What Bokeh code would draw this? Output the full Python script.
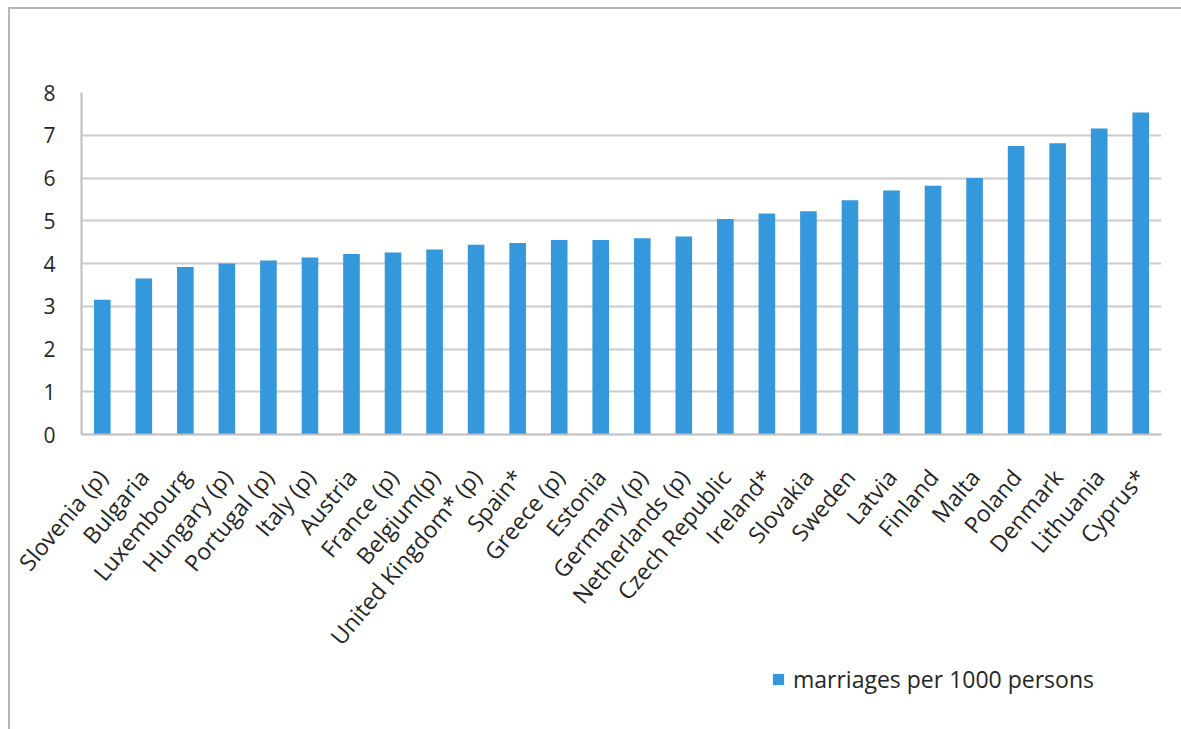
import math

from bokeh.embed import file_html
from bokeh.layouts import column
from bokeh.models import ColumnDataSource, FactorRange, FixedTicker, Legend, LegendItem, Range1d
from bokeh.plotting import figure
from bokeh.resources import INLINE

# Crude marriage rate by country (marriages per 1000 persons)
countries = [
    "Slovenia (p)", "Bulgaria", "Luxembourg", "Hungary (p)", "Portugal (p)",
    "Italy (p)", "Austria", "France (p)", "Belgium(p)", "United Kingdom* (p)",
    "Spain*", "Greece (p)", "Estonia", "Germany (p)", "Netherlands (p)",
    "Czech Republic", "Ireland*", "Slovakia", "Sweden", "Latvia",
    "Finland", "Malta", "Poland", "Denmark", "Lithuania", "Cyprus*",
]
rates = [
    3.15, 3.65, 3.92, 4.0, 4.07,
    4.14, 4.22, 4.26, 4.33, 4.44,
    4.48, 4.55, 4.55, 4.59, 4.63,
    5.04, 5.17, 5.22, 5.48, 5.71,
    5.82, 6.0, 6.75, 6.81, 7.16, 7.53,
]
y_ticks = [0, 1, 2, 3, 4, 5, 6, 7, 8]
series_name = "marriages per 1000 persons"

BAR = "#3598dc"
GRID = "#cccccc"
TEXT = "#262626"
FONT = "Open Sans"

source = ColumnDataSource(dict(country=countries, rate=rates))

# Main bar chart
p = figure(
    x_range=FactorRange(*countries, range_padding=0),
    y_range=Range1d(0, 8),
    width=1173,
    height=655,
    output_backend="svg",
    toolbar_location=None,
    min_border_left=71,
    min_border_top=83,
    min_border_right=22,
    min_border_bottom=226,
)
p.outline_line_color = None
p.background_fill_color = "white"
p.border_fill_color = "white"

bars = p.vbar(x="country", top="rate", width=0.4, source=source,
              fill_color=BAR, line_color=None)

p.xgrid.grid_line_color = None
p.ygrid.grid_line_color = GRID
p.ygrid.grid_line_width = 2
p.yaxis.ticker = FixedTicker(ticks=y_ticks)

for ax in (p.xaxis, p.yaxis):
    ax.axis_line_color = "#bdbdbd"
    ax.axis_line_width = 2
    ax.major_tick_line_color = None
    ax.minor_tick_line_color = None
    ax.major_label_text_font = FONT
    ax.major_label_text_color = TEXT

p.yaxis.major_label_text_font_size = "21px"
p.yaxis.major_label_standoff = 20
p.xaxis.major_label_text_font_size = "23px"
p.xaxis.major_label_orientation = math.radians(50)
p.xaxis.major_label_standoff = 32

# Strip underneath that carries the series legend; its copy of the bars
# lies far below the visible y range, so only the legend key shows.
key = figure(
    width=1173,
    height=65,
    x_range=FactorRange(*countries, range_padding=0),
    y_range=Range1d(100, 101),
    output_backend="svg",
    toolbar_location=None,
    x_axis_location=None,
    y_axis_location=None,
    min_border=0,
)
key.grid.visible = False
key.outline_line_color = None
key_bars = key.vbar(x="country", top="rate", width=0.4, source=source,
                    fill_color=BAR, line_color=None)

legend = Legend(
    items=[LegendItem(label=series_name, renderers=[key_bars])],
    location=(690, 34),
    orientation="horizontal",
    border_line_color=None,
    background_fill_alpha=0,
    padding=0,
    margin=0,
    glyph_width=14,
    glyph_height=14,
    label_standoff=8,
    label_height=20,
    label_text_font=FONT,
    label_text_font_size="23px",
    label_text_line_height=1.0,
    label_text_color=TEXT,
)
key.add_layout(legend, "center")

page = column(p, key, spacing=0)
page.margin = (7, 0, 0, 8)
page.styles = {"border-top": "2px solid #b4b4b4", "border-left": "2px solid #b4b4b4"}

open("out.html", "w").write(file_html(page, INLINE))
